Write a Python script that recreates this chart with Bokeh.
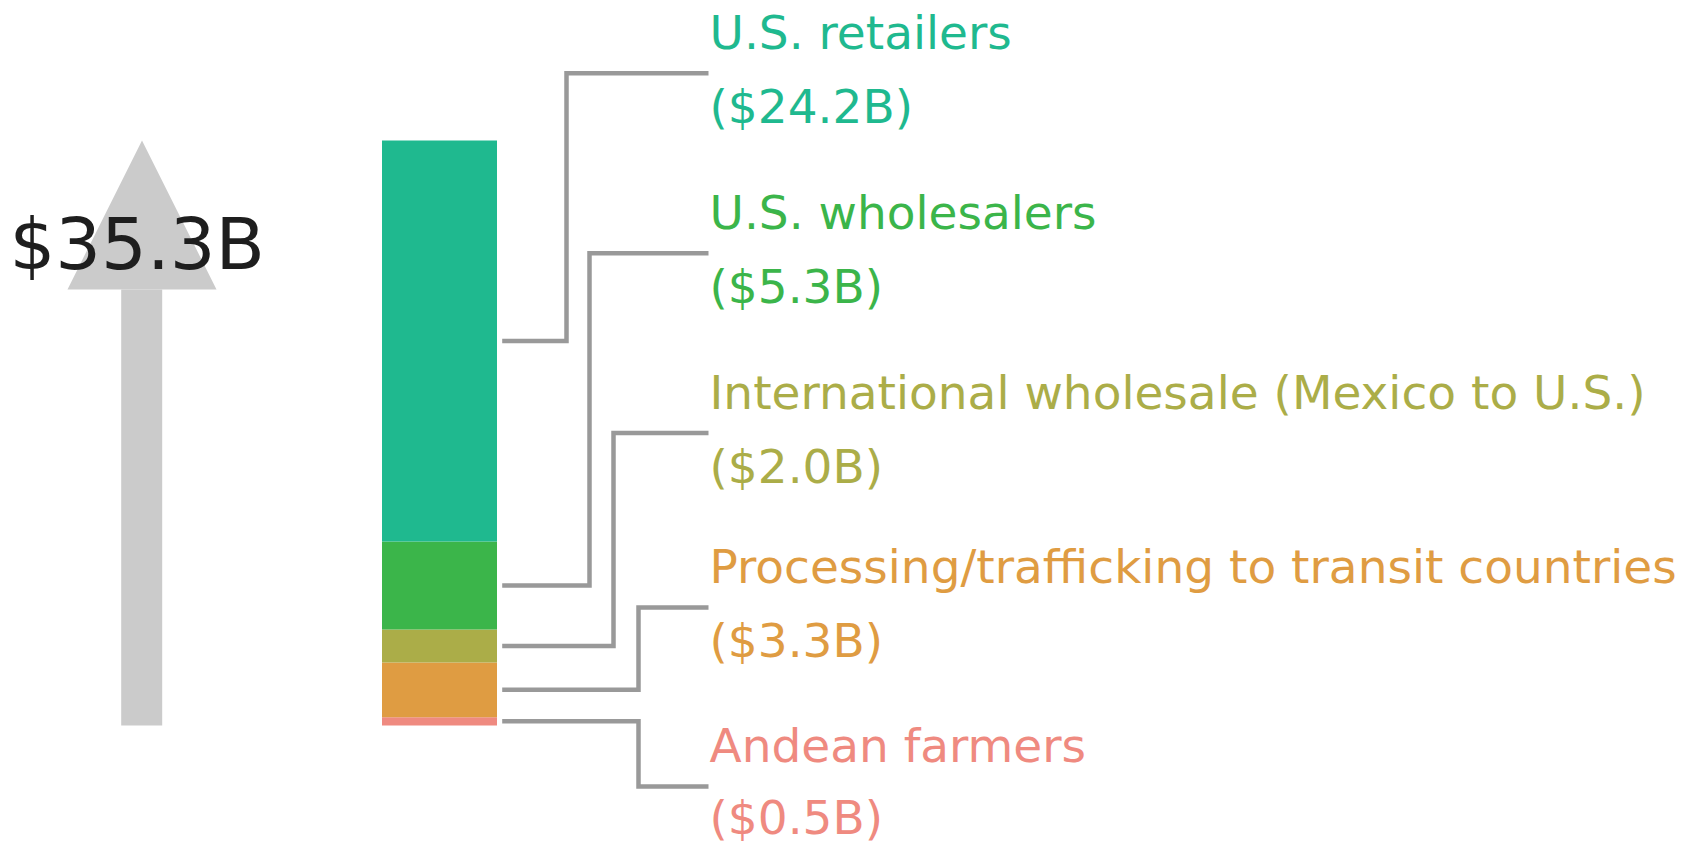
from bokeh.plotting import figure
from bokeh.models import Range1d
from bokeh.core.properties import value
from bokeh.embed import file_html
from bokeh.resources import INLINE

# ---- data (bottom of the stack first) ----
stages = ["Andean farmers",
          "Processing/trafficking to transit countries",
          "International wholesale (Mexico to U.S.)",
          "U.S. wholesalers",
          "U.S. retailers"]
values_b = [0.5, 3.3, 2.0, 5.3, 24.2]
value_labels = ["($0.5B)", "($3.3B)", "($2.0B)", "($5.3B)", "($24.2B)"]
colors = ["#ef8a80", "#df9c42", "#abad48", "#3bb54a", "#1fb98f"]
total_label = "$35.3B"

# ---- layout (pixels in plot frame) ----
W, H = 1689, 844
BAR_BOTTOM_PX, BAR_TOP_PX = 725.0, 140.0
total = sum(values_b)
px_per = (BAR_BOTTOM_PX - BAR_TOP_PX) / total
y_lo = -(H - BAR_BOTTOM_PX) / px_per
y_hi = BAR_BOTTOM_PX / px_per

LABEL_SIZE = 47
BIG_SIZE = 72
BASE_FIX = 0.385  # empirical baseline correction (em)

def to_px(v):
    return BAR_BOTTOM_PX - v * px_per

p = figure(width=W, height=H, output_backend="svg", toolbar_location=None,
           x_range=Range1d(0, W), y_range=Range1d(y_lo, y_hi),
           min_border=0, outline_line_color=None, background_fill_color="white",
           border_fill_color="white")
p.extra_y_ranges = {"px": Range1d(H, 0)}
p.xaxis.visible = False
p.yaxis.visible = False
p.xgrid.visible = False
p.ygrid.visible = False

# ---- stacked bar ----
bottoms, tops = [], []
acc = 0.0
for v in values_b:
    bottoms.append(acc)
    acc += v
    tops.append(acc)
p.quad(left=381.5, right=496.5, bottom=bottoms, top=tops,
       fill_color=colors, line_color=None)

# ---- big arrow ----
ARROW_GRAY = "#cbcbcb"
head_len_px = 149.0
head_base = total - head_len_px / px_per
p.quad(left=120.7, right=161.7, bottom=0, top=head_base,
       fill_color=ARROW_GRAY, line_color=None)
p.patch(x=[67, 216, 141.5], y=[head_base, head_base, total],
        fill_color=ARROW_GRAY, line_color=None)

p.text(x=[9], y=[271 - BASE_FIX * BIG_SIZE], text=[total_label], y_range_name="px",
       text_font=value("DejaVu Sans"), text_font_size=f"{BIG_SIZE}px",
       text_color="#1e1e1e", text_baseline="alphabetic", text_align="left")

# ---- leader lines + labels ----
label_anchor_px = [786.0, 607.0, 432.4, 252.7, 72.7]
vert_x = [638, 638, 613, 589, 566]
start_x, end_x = 501.7, 708.0
xs, ys = [], []
for i, v in enumerate(values_b):
    mid = to_px(bottoms[i] + v / 2.0)
    xs.append([start_x, vert_x[i], vert_x[i], end_x])
    ys.append([mid, mid, label_anchor_px[i], label_anchor_px[i]])
p.multi_line(xs=xs, ys=ys, y_range_name="px", line_color="#999999",
             line_width=4.5, line_join="miter")

fix = BASE_FIX * LABEL_SIZE
for i in range(len(stages)):
    a = label_anchor_px[i]
    line2 = min(a + 51.5, 835.0)
    p.text(x=[709], y=[a - 22.7 - fix], text=[stages[i]], y_range_name="px",
           text_font=value("DejaVu Sans"), text_font_size=f"{LABEL_SIZE}px",
           text_color=colors[i], text_baseline="alphabetic")
    p.text(x=[709], y=[line2 - fix], text=[value_labels[i]], y_range_name="px",
           text_font=value("DejaVu Sans"), text_font_size=f"{LABEL_SIZE}px",
           text_color=colors[i], text_baseline="alphabetic")

open("out.html", "w").write(file_html(p, INLINE))
